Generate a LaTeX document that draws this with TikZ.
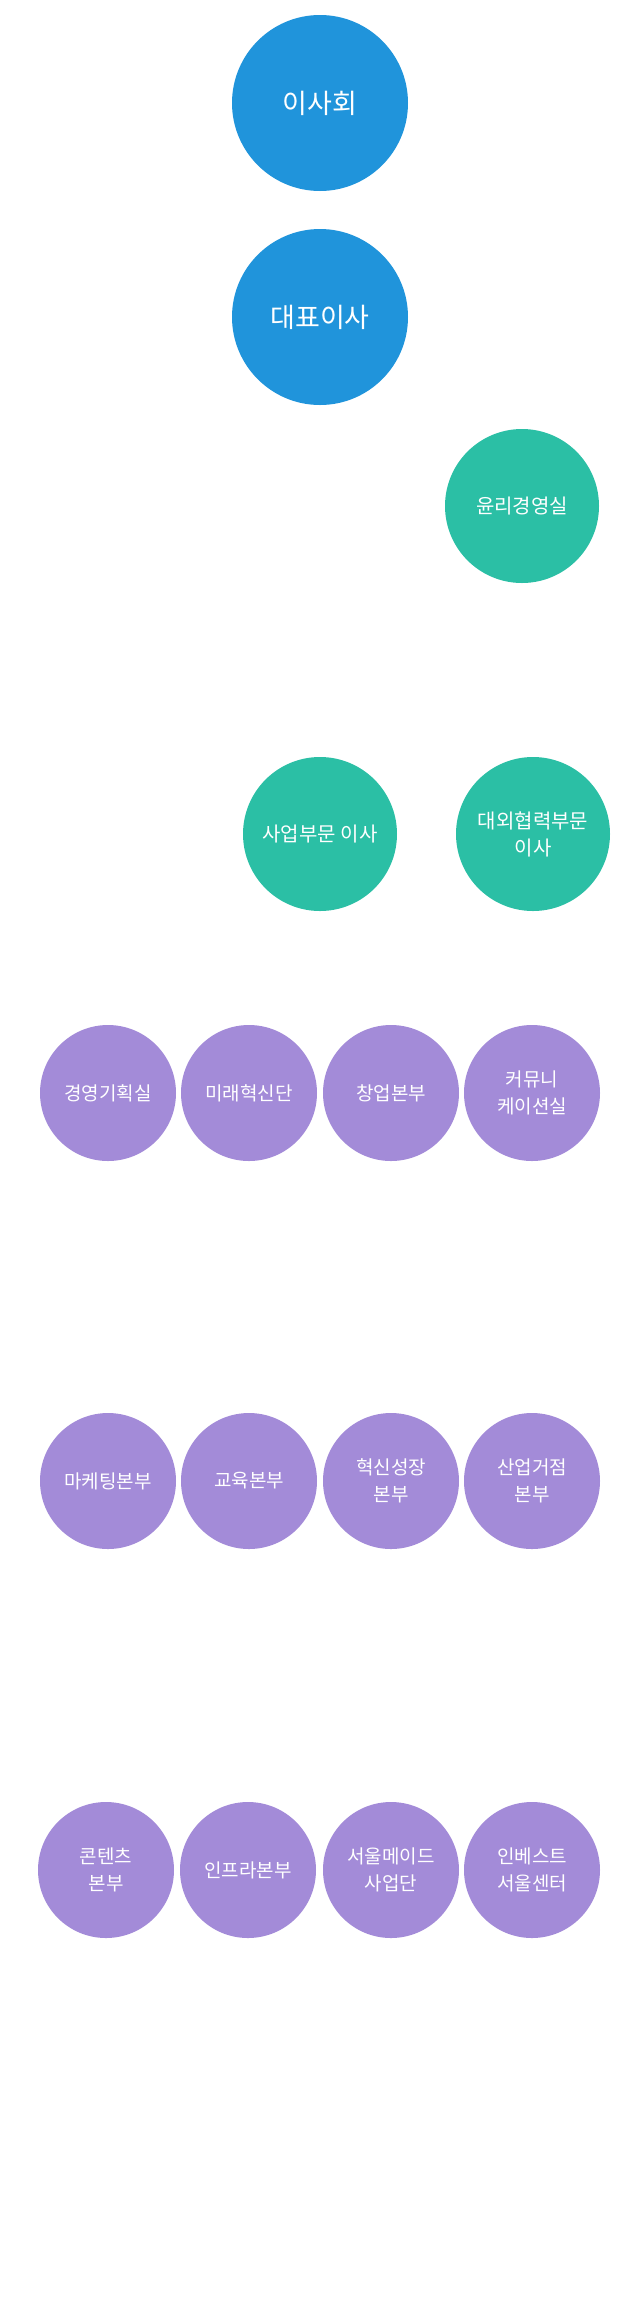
\documentclass[tikz,border=0pt]{standalone}
\usepackage{fontspec}
\setmainfont{Noto Sans CJK KR}
\definecolor{cblue}{HTML}{2094DB}
\definecolor{cteal}{HTML}{2BBFA5}
\definecolor{cpurp}{HTML}{A38BD8}
\definecolor{cline}{HTML}{CCCCCC}
\definecolor{ctext}{HTML}{333333}
\begin{document}
\begin{tikzpicture}[x=1pt,y=-1pt,
  big/.style={circle,fill=cblue,minimum size=176pt,inner sep=0pt,text=white,font=\fontsize{27}{32}\selectfont},
  mid/.style={circle,fill=cteal,minimum size=154pt,inner sep=0pt,text=white,align=center,font=\fontsize{20}{27}\selectfont},
  dept/.style={circle,fill=cpurp,minimum size=136pt,inner sep=0pt,text=white,align=center,font=\fontsize{19}{27}\selectfont},
  teams/.style={anchor=north,align=center,text=ctext,font=\fontsize{15}{32}\selectfont,inner sep=0pt},
  conn/.style={draw=cline,line width=1pt},
  pin/.style={line width=1.5pt,draw=white}]
\useasboundingbox (0,0) rectangle (640,2300);
% nodes
\node[big] (board) at (320,103) {이사회};
\node[big] (ceo) at (320,317) {대표이사};
\node[mid] (ethic) at (522,506) {윤리경영실};
\node[mid] (biz) at (320,834) {사업부문 이사};
\node[mid] (ext) at (533,834) {대외협력부문\\이사};
\node[dept] (d1) at (108,1093) {경영기획실};
\node[dept] (d2) at (249,1093) {미래혁신단};
\node[dept] (d3) at (391,1093) {창업본부};
\node[dept] (d4) at (532,1093) {커뮤니\\케이션실};
\node[dept] (e1) at (108,1481) {마케팅본부};
\node[dept] (e2) at (249,1481) {교육본부};
\node[dept] (e3) at (391,1481) {혁신성장\\본부};
\node[dept] (e4) at (532,1481) {산업거점\\본부};
\node[dept] (f1) at (106,1870) {콘텐츠\\본부};
\node[dept] (f2) at (248,1870) {인프라본부};
\node[dept] (f3) at (391,1870) {서울메이드\\사업단};
\node[dept] (f4) at (532,1870) {인베스트\\서울센터};
% connector coordinates
\coordinate (j0) at (320,506);
\coordinate (busL) at (108,696);
\coordinate (busM) at (320,696);
\coordinate (busE) at (533,696);
\coordinate (busR) at (638,696);
\coordinate (b1) at (108,975);
\coordinate (b2) at (249,975);
\coordinate (b3m) at (320,975);
\coordinate (b3) at (391,975);
\coordinate (c1) at (108,1381);
\coordinate (c2) at (249,1381);
\coordinate (c3) at (391,1381);
\coordinate (c4) at (532,1381);
\coordinate (cm) at (320,1381);
\coordinate (g0) at (320,1769);
\coordinate (g1) at (106,1769);
\coordinate (g2) at (248,1769);
\coordinate (h0) at (638,1769);
\coordinate (h3) at (391,1769);
\coordinate (h4) at (532,1769);
\begin{scope}[on background layer/.style={}]
\end{scope}
\begin{pgfonlayer}{main}\end{pgfonlayer}
% lines (drawn first visually: circles redrawn? draw lines under by ordering via background)
\end{tikzpicture}
\end{document}
